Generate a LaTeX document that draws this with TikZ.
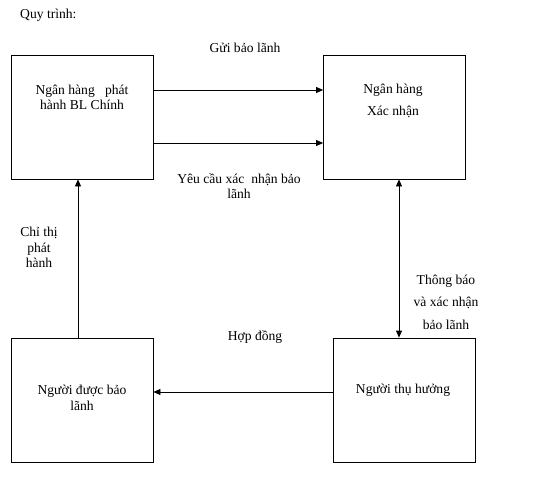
\documentclass[tikz,border=0pt]{standalone}
\usepackage{fontspec}
\setmainfont{Liberation Serif}
\usetikzlibrary{arrows.meta,positioning}

\begin{document}
\begin{tikzpicture}[x=1pt,y=-1pt,font=\fontsize{13.6}{15.5}\selectfont]
        \tikzstyle{every node}+=[inner sep=0pt]
        \tikzstyle{box}=[draw,black,line width=0.8pt,minimum width=142pt,minimum height=124pt]
        \tikzstyle{arr}=[black,line width=0.8pt,-{Triangle[length=7pt,width=6pt]}]
        \useasboundingbox (0,0) rectangle (546,479);
        \node [anchor=west] (title) at (20,15) {Quy trình:};
        \node [box] (issuer) at (82,117) {};
        \node [box] (confirm) at (394.5,117) {};
        \node [box] (applicant) at (82,400) {};
        \node [box] (benef) at (404,400) {};
        \node [align=center] (issuertxt) at (82,97.5) {Ngân hàng\ \ \ phát\\hành BL Chính};
        \node [align=center,font=\fontsize{13.6}{22}\selectfont] (confirmtxt) at (393,101) {Ngân hàng\\Xác nhận};
        \node [align=center] (applicanttxt) at (82,398) {Người được bảo\\lãnh};
        \node (beneftxt) at (403,390) {Người thụ hưởng};
        \draw [arr] ([yshift=27pt]issuer.east) -- ([yshift=27pt]issuer.east -| confirm.west);
        \draw [arr] ([yshift=-26pt]issuer.east) -- ([yshift=-26pt]issuer.east -| confirm.west);
        \draw [arr] ([xshift=-4pt]applicant.north) -- ([xshift=-4pt]issuer.south);
        \draw [arr,{Triangle[length=7pt,width=6pt]}-{Triangle[length=7pt,width=6pt]}] ([xshift=4.5pt]confirm.south) -- ([xshift=4.5pt]confirm.south |- benef.north);
        \draw [arr] ([yshift=8pt]benef.west) -- ([yshift=8pt]benef.west -| applicant.east);
        \node (sendlbl) at (245,48) {Gửi bảo lãnh};
        \node [align=center] (reqlbl) at (239,186) {Yêu cầu xác\ \ nhận bảo\\lãnh};
        \node [align=center] (instrlbl) at (39,247.5) {Chỉ thị\\phát\\hành};
        \node [align=center,font=\fontsize{13.6}{22.5}\selectfont] (notelbl) at (446,302) {Thông báo\\và xác nhận\\bảo lãnh};
        \node (contractlbl) at (255,337) {Hợp đồng};
\end{tikzpicture}
\end{document}
